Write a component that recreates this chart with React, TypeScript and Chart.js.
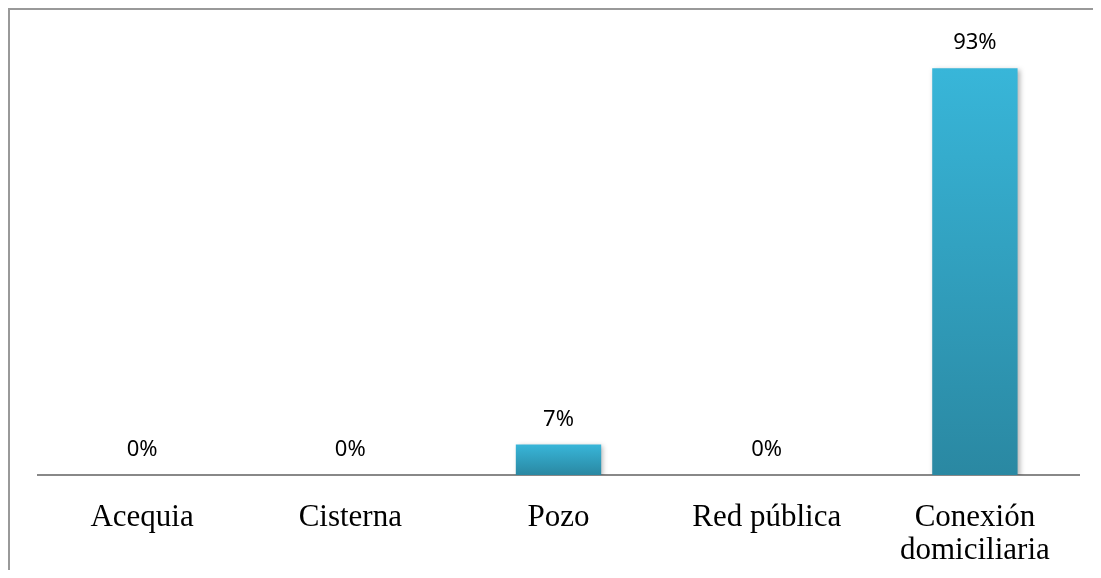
import React, { useEffect, useRef } from "react";
import { Chart, registerables } from "chart.js";

Chart.register(...registerables);

const categories: (string | string[])[] = ["Acequia", "Cisterna", "Pozo", "Red pública", ["Conexión", "domiciliaria"]];
const values: number[] = [0, 0, 7, 0, 93];
const valueLabels: string[] = ["0%", "0%", "7%", "0%", "93%"];

const barStyle = {
  id: "barStyle",
  beforeDatasetsDraw(chart: any) {
    const ctx = chart.ctx;
    const meta = chart.getDatasetMeta(0);
    meta.data.forEach((el: any) => {
      const top = Math.min(el.y, el.base);
      const bottom = Math.max(el.y, el.base);
      const g = ctx.createLinearGradient(0, top, 0, bottom + 0.001);
      g.addColorStop(0, "#38b6d9");
      g.addColorStop(1, "#2a88a2");
      el.options = { ...el.options, backgroundColor: g };
    });
    ctx.save();
    ctx.shadowColor = "rgba(0,0,0,0.3)";
    ctx.shadowBlur = 5;
    ctx.shadowOffsetX = 2;
    ctx.shadowOffsetY = 2;
  },
  afterDatasetsDraw(chart: any) {
    const ctx = chart.ctx;
    ctx.restore();
    const meta = chart.getDatasetMeta(0);
    ctx.save();
    ctx.font = '22px "Noto Sans", sans-serif';
    ctx.fillStyle = "#000";
    ctx.textAlign = "center";
    ctx.textBaseline = "middle";
    meta.data.forEach((el: any, i: number) => {
      ctx.fillText(valueLabels[i], el.x, el.y - 25);
    });
    ctx.restore();
  },
};

export default function App() {
  const ref = useRef<HTMLCanvasElement>(null);
  useEffect(() => {
    const chart = new Chart(ref.current!, {
      type: "bar",
      data: {
        labels: categories,
        datasets: [
          {
            data: values,
            backgroundColor: () => "#33a6c6",
            borderWidth: 0,
            categoryPercentage: 1,
            barPercentage: 0.41,
          },
        ],
      },
      options: {
        animation: false,
        responsive: false,
        devicePixelRatio: 1,
        layout: { padding: { left: 28, right: 14, top: 27.6, bottom: 0 } },
        plugins: { legend: { display: false }, tooltip: { enabled: false } },
        scales: {
          x: {
            grid: { display: false, drawTicks: false },
            border: { display: true, color: "#888888", width: 2 },
            ticks: {
              color: "#000",
              padding: 26,
              font: { family: '"Liberation Serif", "Times New Roman", serif', size: 31, lineHeight: 1.08 },
              maxRotation: 0,
              autoSkip: false,
            },
            afterFit(scale: any) {
              scale.height = 95;
            },
          },
          y: { display: false, min: 0, max: 100 },
        },
      },
      plugins: [barStyle],
    });
    return () => chart.destroy();
  }, []);
  return (
    <div
      style={{
        width: 1085,
        height: 562,
        borderLeft: "2px solid #999",
        borderTop: "2px solid #999",
        boxSizing: "border-box",
      }}
    >
      <canvas ref={ref} width={1083} height={560} style={{ display: "block", width: 1083, height: 560 }} />
    </div>
  );
}
